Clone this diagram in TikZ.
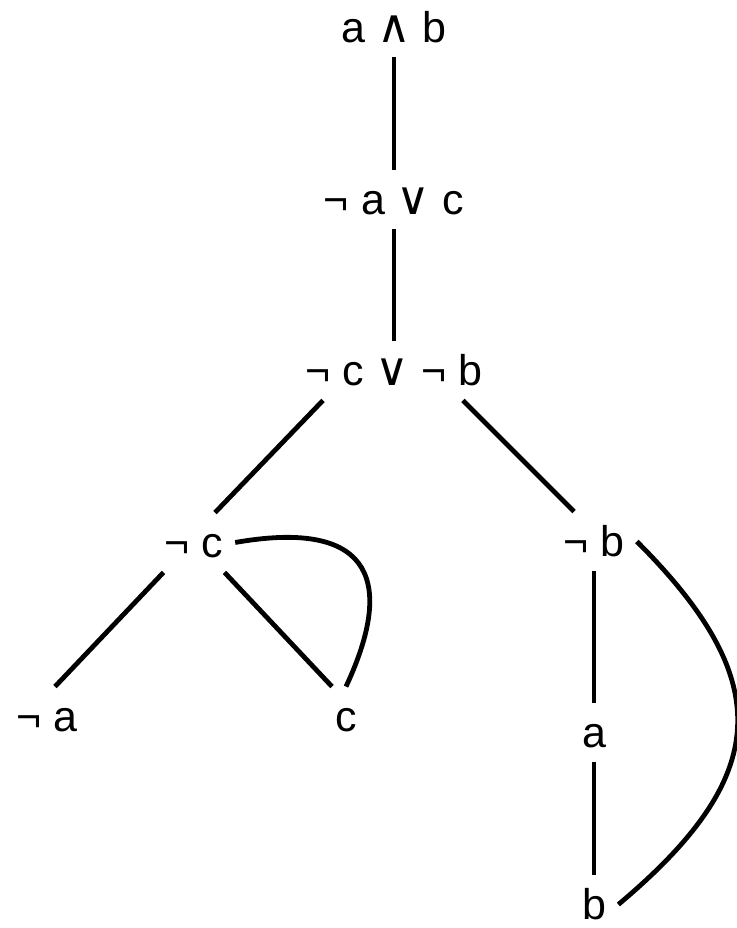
\documentclass[tikz,border=0pt]{standalone}
\usepackage{fontspec}
\setmainfont{Liberation Sans}
\newfontfamily\opfont{DejaVu Sans}
\newcommand{\lAnd}{{\opfont\fontsize{23}{26}\selectfont ∧}}
\newcommand{\lOr}{{\opfont\fontsize{23}{26}\selectfont ∨}}
\usetikzlibrary{positioning,calc}

\begin{document}
\begin{tikzpicture}[x=0.5pt, y=0.5pt, line width=2.4pt,
    clause/.style={inner xsep=5pt, inner ysep=6pt, text height=15.5pt, text depth=0pt,
      font=\fontsize{21.5}{26}\selectfont}]
  \useasboundingbox (0,0) rectangle (736,928);
  \node[clause] (top) at (394,900.5) {a \lAnd{} b};
  \node[clause] (mid) at (394,728.5) {¬ a \lOr{} c};
  \node[clause] (res) at (394,557.5) {¬ c \lOr{} ¬ b};
  \node[clause] (nc) at (193.5,385.5) {¬ c};
  \node[clause] (nb) at (594,386.5) {¬ b};
  \node[clause] (na) at (47,211.5) {¬ a};
  \node[clause] (c) at (346,211.5) {c};
  \node[clause] (a) at (594,195.5) {a};
  \node[clause] (b) at (594,23.5) {b};
  \path[draw]
    (top) edge (mid)
    (mid) edge (res)
    ($(res.south)+(-71,0)$) edge ($(nc.north)+(21.5,0)$)
    ($(res.south)+(69,0)$) edge ($(nb.north)+(-20,0)$)
    ($(nc.south)+(-30,0)$) edge ($(na.north)+(8,0)$)
    ($(nc.south)+(31,0)$) edge ($(c.north)+(-14,0)$)
    (nc.east) edge [out=10, in=65, looseness=1.8] (c.north)
    (nb) edge (a)
    (a) edge (b)
    (nb.east) edge [out=-45, in=40, looseness=1.4] (b.east);
\end{tikzpicture}
\end{document}
